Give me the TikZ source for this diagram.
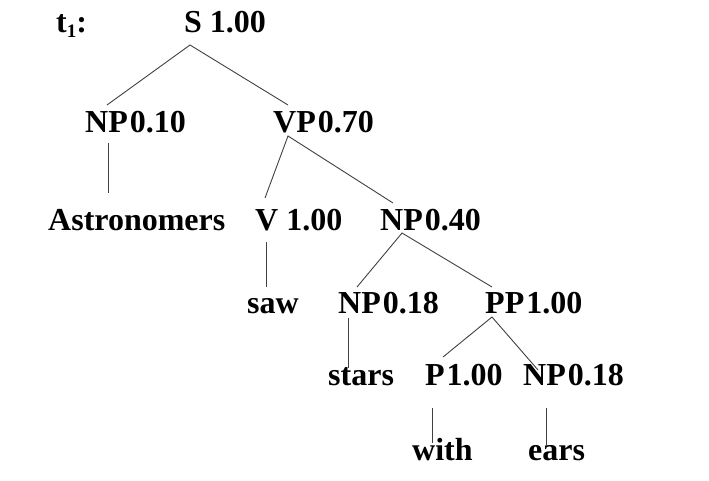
\documentclass[tikz,border=0pt]{standalone}
\usepackage{fontspec}
\setmainfont{Liberation Serif}
\begin{document}
\begin{tikzpicture}[x=1pt,y=-1pt,
  lab/.style={anchor=base west,inner sep=0pt,font=\fontsize{32}{36}\selectfont\bfseries},
  edge/.style={draw=black!75,line width=0.9pt}]
\useasboundingbox (0,0) rectangle (709,481);
\newcommand{\gp}{\hspace{2pt}}
% labels
\node[lab] (t1) at (56,33) {t\raisebox{-5pt}{\fontsize{19}{20}\selectfont 1}:};
\node[lab] (S) at (184,33) {S 1.00};
\node[lab] (NPa) at (85,133) {NP\gp0.10};
\node[lab] (VP) at (273,133) {VP\gp0.70};
\node[lab] (Astr) at (48,230) {Astronomers};
\node[lab] (V) at (255,230) {V 1.00};
\node[lab] (NPb) at (380,230) {NP\gp0.40};
\node[lab] (saw) at (247,313) {saw};
\node[lab] (NPc) at (338,313) {NP\gp0.18};
\node[lab] (PP) at (485,313) {PP\gp1.00};
\node[lab] (stars) at (328,385) {stars};
\node[lab] (P) at (425,385) {P\gp1.00};
\node[lab] (NPd) at (523,385) {NP\gp0.18};
\node[lab] (with) at (412,460) {with};
\node[lab] (ears) at (528,460) {ears};
% connector end points
\coordinate (S-d) at (190,45);
\coordinate (NPa-u) at (107,105);
\coordinate (VP-u) at (288,105);
\coordinate (NPa-d) at (108,143);
\coordinate (Astr-u) at (108,193);
\coordinate (VP-d) at (288,136);
\coordinate (V-u) at (265,198);
\coordinate (NPb-u) at (393,203);
\coordinate (V-d) at (266,242);
\coordinate (saw-u) at (266,287);
\coordinate (NPb-d) at (402,233);
\coordinate (NPc-u) at (357,287);
\coordinate (PP-u) at (492,287);
\coordinate (NPc-d) at (348,318);
\coordinate (stars-u) at (348,368);
\coordinate (PP-d) at (492,317);
\coordinate (P-u) at (443,357);
\coordinate (NPd-u) at (538,370);
\coordinate (P-d) at (432,408);
\coordinate (with-u) at (432,443);
\coordinate (NPd-d) at (546,408);
\coordinate (ears-u) at (546,445);
% connectors
\draw[edge] (NPa-u) -- (S-d) -- (VP-u);
\draw[edge] (NPa-d) -- (Astr-u);
\draw[edge] (V-u) -- (VP-d) -- (NPb-u);
\draw[edge] (V-d) -- (saw-u);
\draw[edge] (NPc-u) -- (NPb-d) -- (PP-u);
\draw[edge] (NPc-d) -- (stars-u);
\draw[edge] (P-u) -- (PP-d) -- (NPd-u);
\draw[edge] (P-d) -- (with-u);
\draw[edge] (NPd-d) -- (ears-u);
\end{tikzpicture}
\end{document}
